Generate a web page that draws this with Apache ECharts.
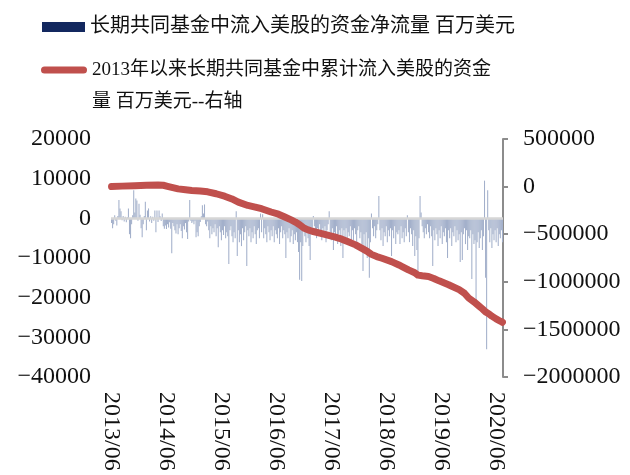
<!DOCTYPE html>
<html>
<head>
<meta charset="utf-8">
<script src="https://cdn.jsdelivr.net/npm/echarts@6/dist/echarts.min.js"></script>
<style>
html,body{margin:0;padding:0;background:#fff;}
#chart{width:630px;height:475px;}
</style>
</head>
<body>
<div id="chart"></div>
<script>
// ---------- data ----------
const startWeek = '2013-06-12';          // first weekly observation
const barName = '长期共同基金中流入美股的资金净流量 百万美元';
const lineName = '2013年以来长期共同基金中累计流入美股的资金量 百万美元--右轴';
const legendLine1 = '2013年以来长期共同基金中累计流入美股的资金';
const legendLine2 = '量 百万美元--右轴';

// weekly net flow (million USD), left axis
const flowValues = [
  -1200,-2500,-1500,800,-600,-1800,600,4600,2500,1800,-500,600,-800,400,-1000,300,2500,-4000,-5000,-1500,
  800,7100,1500,5000,4500,-600,3700,900,-2500,-4800,-1500,600,4200,-3000,2000,2500,-800,500,-1200,400,
  -600,2000,-3500,2000,-900,2000,500,-700,1200,-2000,-2600,-1800,-2700,-1500,-2300,-1000,-2600,-8800,-1200,-2000,
  -3000,-3800,-1500,-4000,-2500,-1500,-3200,-5000,-2000,-2800,-1200,-3500,-5200,-800,4600,-600,-1200,-800,-1500,-600,
  -4800,-3500,-4500,-2000,-900,500,3300,1200,3500,-1500,-2000,-800,-3000,-5000,-2000,-4000,-2500,-3500,-1500,-4500,
  -2500,-7300,-2000,-3500,-5500,-3000,-4200,-2000,-5000,-3500,-4500,-11500,-3000,-2000,-4500,-6000,-3500,-5000,1800,-9500,
  -3000,-6000,-4000,-7000,-2500,-5500,-3500,-2000,-12000,-3000,-4500,-2500,-6000,-3500,-5000,-2000,-4000,-6500,-3000,-2500,
  -5000,1200,-3500,1000,-5000,-2500,-4000,-6000,-2000,-3500,-5500,-3000,-4500,-2000,-6000,-3000,-4000,-5000,-2500,-6500,
  -3500,-2000,-5000,-3000,-4000,-10000,-3500,-5000,-2500,-6000,-4500,-3000,-6500,-4000,-5500,-3500,-6000,-8500,-15500,-6000,
  -15800,-7000,-3000,-4500,-6000,-2500,-5000,-7000,-10500,-4000,-3500,600,-2000,-3500,-5000,-2500,-4000,-1500,-3000,-5500,
  -2500,-4000,-2000,-6000,-3000,-1500,1800,-3500,-5500,-2500,-8000,-3500,-5000,-2000,-6500,-4000,-3000,-7000,-2500,-10000,
  -3000,-5000,-2500,-6500,-3500,-4500,-2000,-7000,-3000,-5500,-2500,-4000,-6000,-3000,-2000,-5000,-3500,-6500,-13300,-4000,
  -8000,-3500,-10000,-5000,-15000,-6000,1200,-2500,-4500,-2000,-5000,-3000,-1500,5600,-3000,-5500,-2500,-7000,-3500,-4500,
  -2000,-6000,-3000,-4500,-2500,-9500,-3000,-5000,-2000,-6500,-3500,-4000,-3000,-6500,-2000,-5000,-3500,-6000,-2500,-4500,
  800,-3500,-6000,-2500,-4000,-7000,-3000,-9500,-4500,-8000,-13300,-5000,5600,1500,-2000,-3500,-5000,-2500,-4000,-1500,
  -3500,-5000,-2000,-4500,-12000,-3000,-5500,-2500,-4000,-7000,-3000,-5000,-2000,-6500,-3500,-4500,-2500,-6000,-10000,-3000,
  -5000,-2500,-7000,-3500,-4500,-2000,-6000,-3000,-5500,-4000,-11000,-3500,-10500,-4000,-2500,-6500,-3000,-8000,-4500,-5000,
  -3000,-15300,-4000,-6500,-5500,-21500,-6000,-3500,-7500,-5000,-3000,-8000,-4500,9500,-15000,-33000,7100,-3000,-6000,-2500,
  -7500,-4000,-5500,-3000,-6000,-2500,-7000,-4000,-5000,-3000,-6000
];

// cumulative flow since 2013 (million USD), right axis: week index / value
const cumWeeks = [0,10,22,33,44,49,53,58,63,70,76,84,91,99,107,114,120,129,136,142,151,158,164,170,174,178,182,186,190,199,
  211,218,224,231,237,242,246,251,256,265,272,275,281,287,290,294,300,305,310,319,329,334,338,343,348,351,354,357,360,364,368,370];
const cumValues = [0,5000,10000,14000,17000,14000,3000,-10000,-24000,-33000,-40000,-47000,-55000,-75000,-101000,-130000,-163000,-198000,-215000,-232000,
  -267000,-290000,-320000,-350000,-372000,-400000,-435000,-455000,-469000,-493000,-528000,-552000,-580000,-612000,-649000,-680000,-712000,-735000,-753000,-788000,
  -823000,-840000,-875000,-905000,-930000,-937000,-945000,-965000,-990000,-1031000,-1083000,-1120000,-1170000,-1210000,-1257000,-1285000,-1316000,-1335000,-1361000,-1390000,-1414000,-1425000];

const xTickLabels = ['2013/06','2014/06','2015/06','2016/06','2017/06','2018/06','2019/06','2020/06'];
const xTickEvery = 52;
const leftMin = -40000, leftMax = 20000, leftStep = 10000;
const rightMin = -2000000, rightMax = 500000, rightStep = 500000;

// ---------- build ----------
const categories = [];
const d0 = new Date(startWeek + 'T00:00:00Z');
for (let i = 0; i < flowValues.length; i++) {
  const d = new Date(d0.getTime() + i * 7 * 86400000);
  const m = String(d.getUTCMonth() + 1).padStart(2, '0');
  const dd = String(d.getUTCDate()).padStart(2, '0');
  categories.push(d.getUTCFullYear() + '/' + m + '/' + dd);
}
const cumData = cumWeeks.map((w, k) => [w, cumValues[k]]);

const serif = '"Liberation Serif","Times New Roman","Noto Sans CJK SC",serif';
const chart = echarts.init(document.getElementById('chart'), null, {renderer: 'canvas'});
chart.setOption({
  backgroundColor: '#ffffff',
  animation: false,
  textStyle: {fontFamily: serif},
  legend: [
    {
      left: 37, top: 6, orient: 'vertical',
      itemWidth: 43, itemHeight: 10,
      data: [{name: barName, icon: 'rect', itemStyle: {color: '#13285f'}}],
      textStyle: {fontFamily: serif, fontSize: 20, color: '#111', lineHeight: 32}
    },
    {
      left: 36, top: 17, orient: 'vertical',
      itemWidth: 46, itemHeight: 7,
      data: [{name: lineName,
        icon: 'path://M3.5,0 L42.5,0 A3.5,3.5 0 0 1 42.5,7 L3.5,7 A3.5,3.5 0 0 1 3.5,0 Z',
        itemStyle: {color: '#c0504d', borderWidth: 0}}],
      formatter: function () { return ' \n' + legendLine1 + '\n' + legendLine2; },
      textStyle: {fontFamily: serif, fontSize: 19, color: '#111', lineHeight: 32}
    }
  ],
  grid: {left: 111, right: 127, top: 139, height: 238, containLabel: false},
  xAxis: {
    type: 'category',
    data: categories,
    boundaryGap: true,
    axisLine: {show: false},
    axisTick: {show: false},
    splitLine: {show: false},
    axisLabel: {
      rotate: -90,
      margin: 15,
      fontSize: 24,
      color: '#111',
      fontFamily: serif,
      interval: function (idx) { return idx % xTickEvery === 0; },
      formatter: function (v, idx) { return xTickLabels[Math.round(idx / xTickEvery)]; }
    }
  },
  yAxis: [
    {
      type: 'value', position: 'left',
      min: leftMin, max: leftMax, interval: leftStep,
      axisLine: {show: false}, axisTick: {show: false}, splitLine: {show: false},
      axisLabel: {margin: 20, fontSize: 24, color: '#111', fontFamily: serif,
        formatter: function (v) { return v < 0 ? '\u2212' + Math.abs(v) : String(v); }}
    },
    {
      type: 'value', position: 'right',
      min: rightMin, max: rightMax, interval: rightStep,
      axisLine: {show: true, lineStyle: {color: '#8c8c8c', width: 2}},
      axisTick: {show: true, length: 5, lineStyle: {color: '#8c8c8c', width: 2}},
      splitLine: {show: false},
      axisLabel: {margin: 20, fontSize: 24, color: '#111', fontFamily: serif,
        formatter: function (v) { return v < 0 ? '\u2212' + Math.abs(v) : String(v); }}
    }
  ],
  series: [
    {
      name: barName, type: 'bar', yAxisIndex: 0,
      data: flowValues,
      barCategoryGap: '0%',
      itemStyle: {color: '#a3b0cb'},
      markLine: {
        silent: true, symbol: 'none', label: {show: false},
        lineStyle: {color: '#d6d6d6', width: 2.5, type: 'solid'},
        data: [{yAxis: 0}]
      }
    },
    {
      name: lineName, type: 'line', yAxisIndex: 1,
      data: cumData,
      showSymbol: false, symbol: 'none',
      lineStyle: {color: '#c0504d', width: 7, cap: 'round', join: 'round'},
      itemStyle: {color: '#c0504d'},
      z: 5
    }
  ]
});
</script>
</body>
</html>
